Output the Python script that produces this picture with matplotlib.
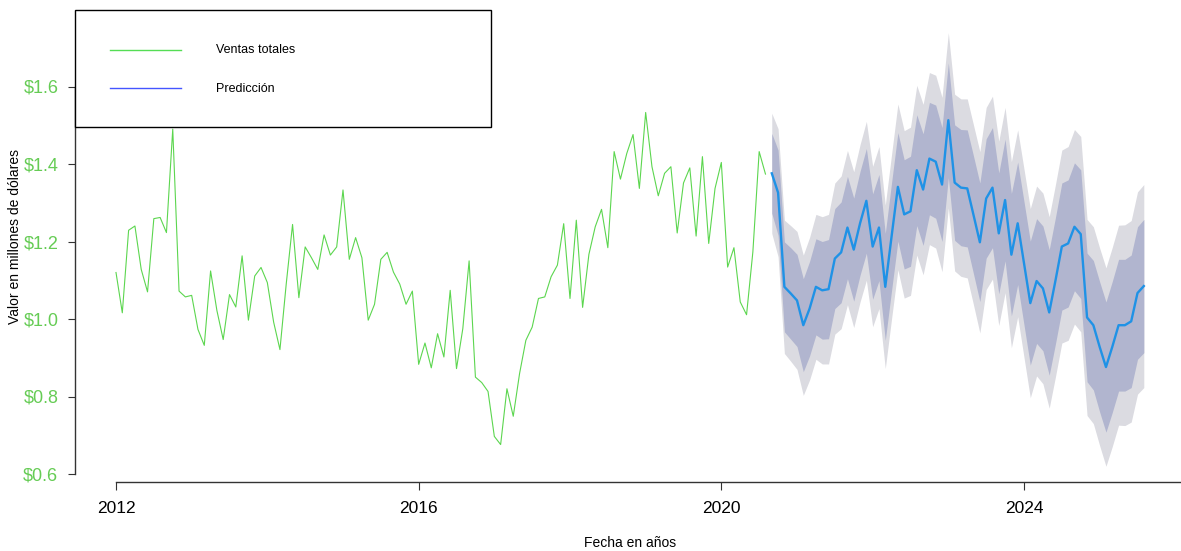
import numpy as np
import matplotlib
matplotlib.use("Agg")
import matplotlib.pyplot as plt
from matplotlib.lines import Line2D
from matplotlib.patches import Rectangle

plt.rcParams['font.family'] = ['Liberation Sans', 'DejaVu Sans']

# Monthly total sales (millions of dollars), Jan 2012 - Aug 2020
ventas = [
    1.120, 1.016, 1.229, 1.240, 1.128, 1.070, 1.259, 1.262, 1.223, 1.490, 1.072, 1.057,
    1.061, 0.973, 0.932, 1.124, 1.022, 0.947, 1.063, 1.031, 1.163, 0.997, 1.111, 1.133,
    1.094, 0.992, 0.921, 1.091, 1.244, 1.055, 1.186, 1.158, 1.128, 1.217, 1.165, 1.186,
    1.333, 1.154, 1.210, 1.158, 0.997, 1.038, 1.154, 1.172, 1.121, 1.090, 1.038, 1.072,
    0.883, 0.938, 0.874, 0.962, 0.902, 1.074, 0.872, 0.975, 1.150, 0.850, 0.836, 0.813,
    0.697, 0.676, 0.820, 0.749, 0.859, 0.945, 0.979, 1.053, 1.057, 1.109, 1.139, 1.246,
    1.053, 1.255, 1.030, 1.167, 1.238, 1.283, 1.184, 1.432, 1.361, 1.427, 1.476, 1.337,
    1.533, 1.393, 1.318, 1.376, 1.393, 1.222, 1.351, 1.390, 1.214, 1.419, 1.195, 1.337,
    1.404, 1.134, 1.184, 1.044, 1.011, 1.173, 1.432, 1.374,
]

# Point forecast, Sep 2020 - Aug 2025
prediccion = [
    1.376, 1.326, 1.083, 1.066, 1.048, 0.984, 1.027, 1.083, 1.074, 1.077, 1.156, 1.172,
    1.236, 1.179, 1.247, 1.305, 1.187, 1.236, 1.083, 1.213, 1.341, 1.270, 1.278, 1.384,
    1.334, 1.414, 1.406, 1.347, 1.513, 1.352, 1.339, 1.337, 1.268, 1.198, 1.311, 1.339,
    1.221, 1.307, 1.166, 1.247, 1.144, 1.041, 1.098, 1.079, 1.017, 1.100, 1.187, 1.195,
    1.238, 1.219, 1.004, 0.984, 0.928, 0.876, 0.928, 0.984, 0.984, 0.994, 1.067, 1.085,
]

# Half-width of the 80% and 95% prediction intervals per forecast month
semi80 = [
    0.103, 0.110, 0.116, 0.118, 0.119, 0.120, 0.122, 0.124, 0.126, 0.128, 0.129, 0.130,
    0.132, 0.133, 0.134, 0.135, 0.136, 0.137, 0.138, 0.139, 0.140, 0.141, 0.142, 0.143,
    0.144, 0.145, 0.146, 0.147, 0.148, 0.149, 0.150, 0.151, 0.152, 0.153, 0.154, 0.155,
    0.156, 0.157, 0.158, 0.158, 0.159, 0.160, 0.161, 0.161, 0.162, 0.163, 0.164, 0.164,
    0.165, 0.166, 0.166, 0.167, 0.168, 0.168, 0.169, 0.170, 0.170, 0.171, 0.171, 0.172,
]
semi95 = [
    0.155, 0.165, 0.172, 0.175, 0.178, 0.181, 0.184, 0.187, 0.190, 0.193, 0.195, 0.197,
    0.199, 0.201, 0.203, 0.205, 0.207, 0.209, 0.211, 0.212, 0.214, 0.216, 0.217, 0.219,
    0.220, 0.222, 0.223, 0.225, 0.226, 0.228, 0.229, 0.231, 0.232, 0.234, 0.235, 0.236,
    0.238, 0.239, 0.240, 0.241, 0.243, 0.244, 0.245, 0.246, 0.247, 0.248, 0.249, 0.250,
    0.251, 0.252, 0.253, 0.254, 0.255, 0.256, 0.257, 0.258, 0.259, 0.260, 0.261, 0.262,
]

y_ticks = [0.6, 0.8, 1.0, 1.2, 1.4, 1.6]
x_ticks = [2012, 2016, 2020, 2024]
inicio = 2012.0

W, H = 1181, 551
fig = plt.figure(figsize=(W / 100, H / 100), dpi=100)

# plot region in pixel terms: left 75, right 1181, top 10, bottom 482
L, R, T, B = 75, 1181, 10, 482
ax = fig.add_axes([L / W, 1 - B / H, (R - L) / W, (B - T) / H])

n = len(ventas)
t_hist = inicio + np.arange(n) / 12.0
t_fc = inicio + (n + np.arange(len(prediccion))) / 12.0
pred = np.array(prediccion)
s80 = np.array(semi80)
s95 = np.array(semi95)

ax.fill_between(t_fc, pred - s95, pred + s95, color='#dbdbe1', lw=0, zorder=1)
ax.fill_between(t_fc, pred - s80, pred + s80, color='#b1b5cf', lw=0, zorder=2)
ax.plot(t_fc, pred, color='#1f92e6', lw=1.7, zorder=3)
ax.plot(t_hist, ventas, color='#5cd64f', lw=0.8, zorder=3)

# axis limits chosen so 2012 sits at px 116 and 2024 at px 1024; $1.6 at px 86.5, $0.6 at px 474
ppy = (1024 - 116) / 12.0
ax.set_xlim(2012 - (116 - L) / ppy, 2012 + (R - 116) / ppy)
ppv = (474 - 86.5) / 1.0
ax.set_ylim(1.6 - (B - 86.5) / ppv, 1.6 + (86.5 - T) / ppv)

for s in ['top', 'right']:
    ax.spines[s].set_visible(False)
ax.spines['left'].set_bounds(0.6, 1.6)
ax.spines['bottom'].set_bounds(2012, ax.get_xlim()[1])
for s in ['left', 'bottom']:
    ax.spines[s].set_color('#333333')
    ax.spines[s].set_linewidth(1.0)

ax.set_yticks(y_ticks)
ax.set_yticklabels(['$%.1f' % v for v in y_ticks], color='#66cc55', fontsize=13)
ax.set_xticks(x_ticks)
ax.set_xticklabels([str(v) for v in x_ticks], color='black', fontsize=12.5)
ax.tick_params(axis='y', length=5, pad=7, color='#333333')
ax.tick_params(axis='x', length=6, pad=8, color='#333333')

fig.text(630 / W, 1 - 543 / H, 'Fecha en años', ha='center', va='center', fontsize=10)
fig.text(15 / W, 1 - 236 / H, 'Valor en millones de dólares', ha='center', va='center',
         rotation=90, fontsize=10)

# legend box drawn at the top-left corner of the plot region
def fx(px):
    return px / W

def fy(py):
    return 1 - py / H

fig.patches.append(Rectangle((fx(75), fy(127)), fx(491) - fx(75), fy(10) - fy(127),
                             transform=fig.transFigure, facecolor='white',
                             edgecolor='black', lw=1.0, zorder=10))
fig.lines.append(Line2D([fx(110), fx(181)], [fy(50), fy(50)], transform=fig.transFigure,
                        color='#55dd55', lw=1.0, zorder=11))
fig.lines.append(Line2D([fx(110), fx(181)], [fy(88), fy(88)], transform=fig.transFigure,
                        color='#4455ff', lw=1.0, zorder=11))
fig.text(fx(216), fy(50), 'Ventas totales', ha='left', va='center', fontsize=9, zorder=12)
fig.text(fx(216), fy(89), 'Predicción', ha='left', va='center', fontsize=9, zorder=12)

fig.savefig('out.png', dpi=100)
